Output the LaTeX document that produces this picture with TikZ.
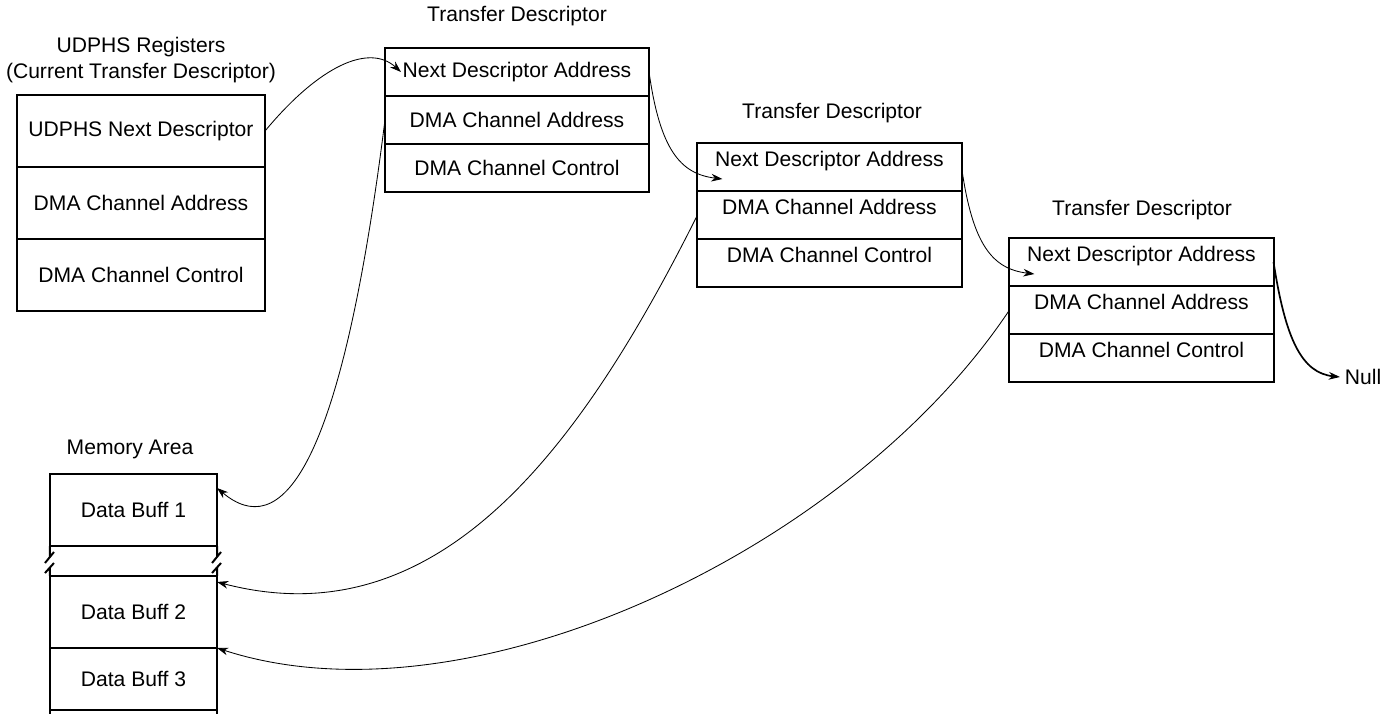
\documentclass[tikz,border=0pt]{standalone}
\usepackage{fontspec}
\setmainfont{Liberation Sans}
\usepackage{tikz}
\usetikzlibrary{arrows.meta, calc}
\tikzset{
    reg/.style={draw, line width=1.4pt, minimum width=6.2cm, minimum height=1.8cm, inner sep=0pt, outer sep=0pt},
    desc/.style={draw, line width=1.4pt, minimum width=6.6cm, minimum height=1.2cm, inner sep=0pt, outer sep=0pt},
    deschi/.style={desc, text height=11pt, text depth=11pt},
    buf/.style={draw, line width=1.4pt, minimum width=4.175cm, minimum height=1.8cm, inner sep=0pt, outer sep=0pt},
    ttl/.style={inner sep=0pt, align=center},
    lnk/.style={-{Stealth[length=8pt, width=5.5pt]}, line width=0.6pt},
    td/.style={x=0.025cm, y=-0.025cm, font=\fontsize{15}{18}\selectfont}
}
\begin{document}
\begin{tikzpicture}[td]
            \useasboundingbox (0,0) rectangle (1393,714);

            % UDPHS registers
            \node[ttl] (udt) at (141,60) {UDPHS Registers\\(Current Transfer Descriptor)};
            \node[reg] (udn) at (141,131) {UDPHS Next Descriptor};
            \node[reg] (uda) at (141,203) {DMA Channel Address};
            \node[reg] (udc) at (141,275) {DMA Channel Control};

            % transfer descriptors
            \node[ttl] (t1) at (517,16) {Transfer Descriptor};
            \node[desc] (td1n) at (517,72) {Next Descriptor Address};
            \node[desc] (td1a) at (517,120) {DMA Channel Address};
            \node[desc] (td1c) at (517,168) {DMA Channel Control};

            \node[ttl] (t2) at (832,113) {Transfer Descriptor};
            \node[deschi] (td2n) at (829.5,167) {Next Descriptor Address};
            \node[deschi] (td2a) at (829.5,215) {DMA Channel Address};
            \node[deschi] (td2c) at (829.5,263) {DMA Channel Control};

            \node[ttl] (t3) at (1142,210) {Transfer Descriptor};
            \node[deschi] (td3n) at (1141.5,262) {Next Descriptor Address};
            \node[deschi] (td3a) at (1141.5,310) {DMA Channel Address};
            \node[deschi] (td3c) at (1141.5,358) {DMA Channel Control};

            \node[anchor=west] (null) at (1340,377) {Null};

            % memory
            \node[ttl] (mem) at (130,449) {Memory Area};
            \node[buf] (db1) at (133.5,510) {Data Buff 1};
            \node[buf] (db2) at (133.5,612) {Data Buff 2};
            \node[buf, minimum height=1.55cm] (db3) at (133.5,679) {Data Buff 3};

            \foreach \s in {west,east} {
                \draw[line width=1.4pt] (db1.south \s) -- ++(0,11)
                    ++(-5,6) -- ++(9,-11) ++(-9,21) -- ++(9,-10)
                    ++(-4,5) -- (db2.north \s);
                \draw[line width=1.4pt] (db3.south \s) -- ++(0,6);
            }

            % links
            \draw[lnk] (udn.east) .. controls +(54,-65) and +(-32,-29) .. ([xshift=0.4cm]td1n.west);
            \draw[lnk] (td1n.east) .. controls +(11,78) and +(-42,-5) .. ([xshift=0.625cm,yshift=0.3cm]td2n.south west);
            \draw[lnk] (td2n.east) .. controls +(11,78) and +(-42,-5) .. ([xshift=0.625cm,yshift=0.3cm]td3n.south west);
            \draw[lnk, line width=1.2pt] (td3n.east) .. controls +(12,78) and +(-38,-4) .. (null.west);

            \draw[lnk] (td1a.west) .. controls +(-45,360) and +(62,52) .. ([yshift=0.55cm]db1.east);
            \draw[lnk] (td2a.west) .. controls +(-117,234) and +(222,58) .. ([yshift=-0.15cm]db2.north east);
            \draw[lnk] (td3a.west) .. controls +(-160,240) and +(252,82) .. (db3.north east);
        \end{tikzpicture}
\end{document}
